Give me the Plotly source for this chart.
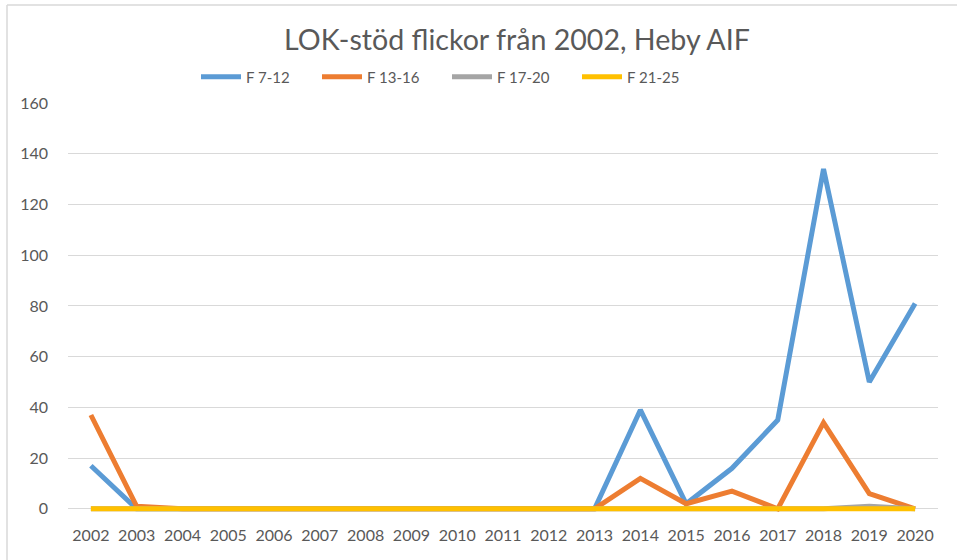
import plotly.graph_objects as go

years = [str(y) for y in range(2002, 2021)]
f_7_12 = [17, 0, 0, 0, 0, 0, 0, 0, 0, 0, 0, 0, 39, 2, 16, 35, 134, 50, 81]
f_13_16 = [37, 1, 0, 0, 0, 0, 0, 0, 0, 0, 0, 0, 12, 2, 7, 0, 34, 6, 0]
f_17_20 = [0, 0, 0, 0, 0, 0, 0, 0, 0, 0, 0, 0, 0, 0, 0, 0, 0, 1, 0]
f_21_25 = [0] * 19

series = [
    ("F 7-12", f_7_12, "#5B9BD5"),
    ("F 13-16", f_13_16, "#ED7D31"),
    ("F 17-20", f_17_20, "#A5A5A5"),
    ("F 21-25", f_21_25, "#FFC000"),
]
legend_left_px = [196, 317, 447, 577]

W, H = 957, 560
ymin = -4
L, R, T = 68, 19, 103
zero_px = 509
unit = (zero_px - T) / 160.0
B = H - (zero_px - ymin * unit)
pw, ph = W - L - R, H - T - B

fig = go.Figure()
legends = {}
for i, (name, vals, col) in enumerate(series):
    lg = "legend" if i == 0 else f"legend{i + 1}"
    fig.add_trace(go.Scatter(x=years, y=vals, name=name, mode="lines",
                             line=dict(color=col, width=5), legend=lg))
    legends[lg] = dict(orientation="h", x=(legend_left_px[i] - L) / pw, xanchor="left",
                       y=1 + (T - 77) / ph, yanchor="middle",
                       font=dict(size=15, color="#595959"), itemwidth=40,
                       bgcolor="rgba(0,0,0,0)")

fig.update_layout(
    width=W, height=H,
    margin=dict(l=L, r=R, t=T, b=B, pad=0),
    paper_bgcolor="white", plot_bgcolor="white",
    font=dict(family="Lato, Calibri, sans-serif", color="#595959", size=16),
    title=dict(text="LOK-stöd flickor från 2002, Heby AIF", x=517 / W, xref="container",
               xanchor="center", y=1 - 40 / H, yref="container", yanchor="middle",
               font=dict(size=28.6, color="#595959")),
    showlegend=True,
    xaxis=dict(type="category", showgrid=False, showline=False, ticks="",
               tickfont=dict(size=16, color="#595959"), range=[-0.5, 18.5],
               ticklabelstandoff=5, fixedrange=True),
    yaxis=dict(range=[ymin, 160], tick0=0, dtick=20, showgrid=True, gridcolor="#D9D9D9",
               gridwidth=1, zeroline=True, zerolinecolor="#D9D9D9", zerolinewidth=1,
               showline=False, ticks="", tickfont=dict(size=16, color="#595959"),
               ticklabelstandoff=19, fixedrange=True),
    **legends,
)

# chart border (top and left visible in reference)
x_left = (7 - L) / pw
y_top = 1 + (T - 5) / ph
fig.add_shape(type="line", xref="paper", yref="paper", x0=x_left, x1=1 + (R + 5) / pw,
              y0=y_top, y1=y_top, line=dict(color="#D9D9D9", width=1.5))
fig.add_shape(type="line", xref="paper", yref="paper", x0=x_left, x1=x_left,
              y0=y_top, y1=-(B + 5) / ph, line=dict(color="#D9D9D9", width=1.5))

fig.write_html("out.html", config={"displayModeBar": False},
               post_script="document.body.style.margin='0';")
